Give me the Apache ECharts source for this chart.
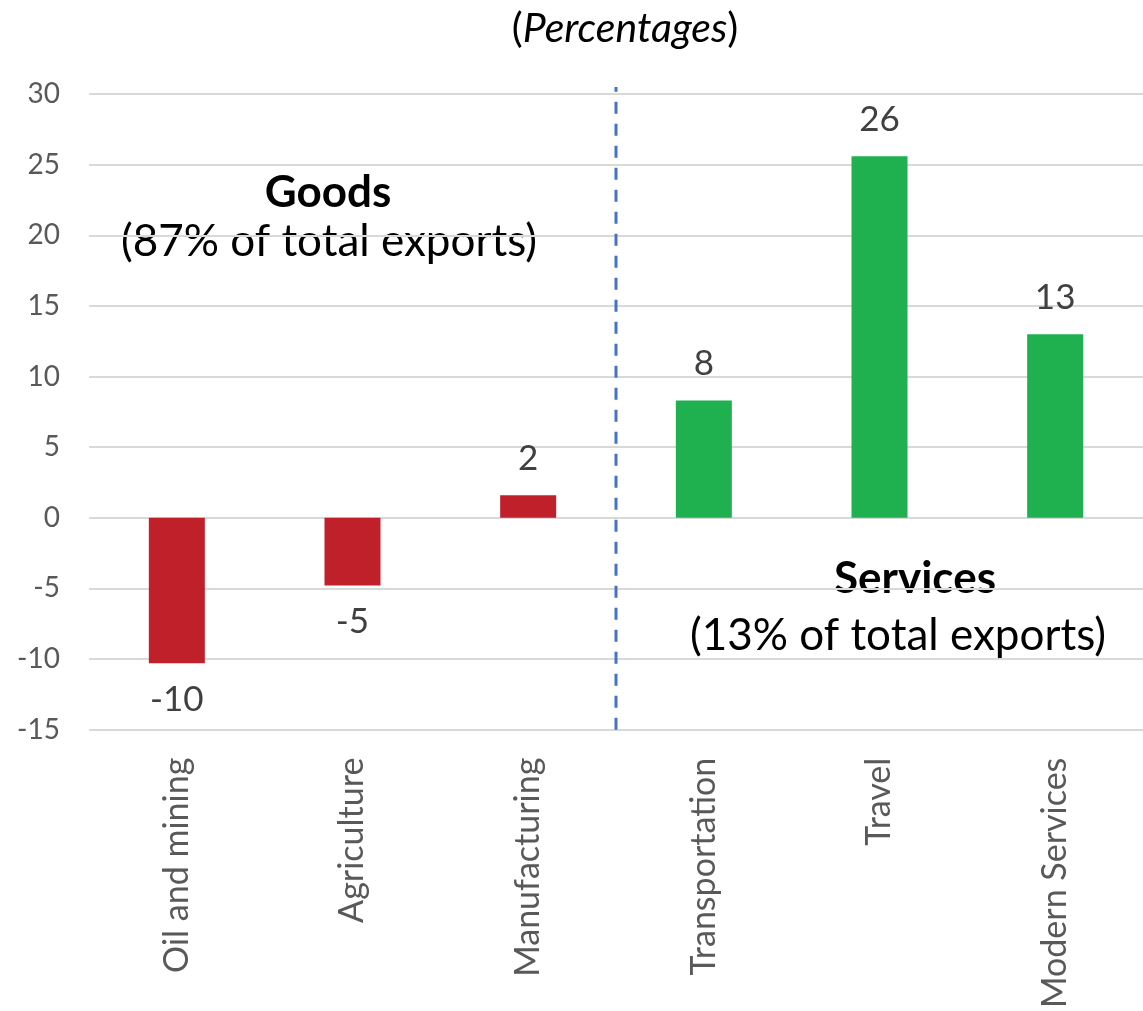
<!DOCTYPE html>
<html><head><meta charset="utf-8">
<script src="https://cdn.jsdelivr.net/npm/echarts@6/dist/echarts.min.js"></script>
<style>html,body{margin:0;padding:0;background:#fff}#c{width:1143px;height:1011px}</style>
</head><body><div id="c"></div>
<script>
const categories = ["Oil and mining","Agriculture","Manufacturing","Transportation","Travel","Modern Services"];
const values = [-10.3, -4.8, 1.6, 8.3, 25.6, 13.0];
const barColors = ["#C0202A","#C0202A","#C0202A","#1FB04F","#1FB04F","#1FB04F"];
const dividerX = [3, 3];
const dividerY = [-15, 30.5];
const yTicks = {min:-15, max:30, interval:5};
const FONT = "Lato";

const chart = echarts.init(document.getElementById('c'), null, {renderer:'canvas'});
chart.setOption({
  animation:false,
  backgroundColor:'#fff',
  textStyle:{fontFamily:FONT},
  grid:{left:89, top:94, width:1060, height:638, containLabel:false},
  xAxis:[
    {type:'category', data:categories, axisLine:{show:false}, axisTick:{show:false},
     axisLabel:{rotate:90, margin:28, fontSize:34, color:'#595959', fontFamily:FONT}},
    {type:'value', min:0, max:6, show:false}
  ],
  yAxis:{type:'value', min:yTicks.min, max:yTicks.max, interval:yTicks.interval,
    axisLine:{show:false}, axisTick:{show:false},
    axisLabel:{margin:29, fontSize:28, color:'#595959', fontFamily:FONT},
    splitLine:{lineStyle:{color:'#D9D9D9', width:2}}},
  series:[
    {type:'bar', xAxisIndex:0, barWidth:56,
     data: values.map((v,i)=>({value:v, itemStyle:{color:barColors[i]},
        label:{position: v<0?'bottom':'top'}})),
     label:{show:true, fontSize:35, color:'#404040', distance:19, fontFamily:FONT,
        formatter:p=>Math.round(p.value)}},
    {type:'line', xAxisIndex:1, clip:false, silent:true, symbol:'none',
     data: dividerX.map((x,i)=>[x, dividerY[i]]),
     lineStyle:{color:'#4472C4', width:3, type:[12,10]}}
  ],
  graphic:[
    {type:'text', style:{rich:{a:{fontSize:41,fill:'#000',fontFamily:FONT},b:{fontSize:41,fill:'#000',fontStyle:'italic',fontFamily:FONT}}, text:'{a|(}{b|Percentages}{a|)}', x:625, y:29, align:'center', verticalAlign:'middle'}},
    {type:'text', style:{text:'Goods', font:'bold 44px "'+FONT+'"', fill:'#000', align:'center', verticalAlign:'middle', x:328, y:193}},
    {type:'text', style:{text:'(87% of total exports)', font:'44px "'+FONT+'"', fill:'#000', align:'center', verticalAlign:'middle', x:329, y:242}},
    {type:'text', style:{text:'Services', font:'bold 44px "'+FONT+'"', fill:'#000', align:'center', verticalAlign:'middle', x:915, y:579}},
    {type:'text', style:{text:'(13% of total exports)', font:'44px "'+FONT+'"', fill:'#000', align:'center', verticalAlign:'middle', x:898, y:636}}
  ]
});
</script></body></html>
